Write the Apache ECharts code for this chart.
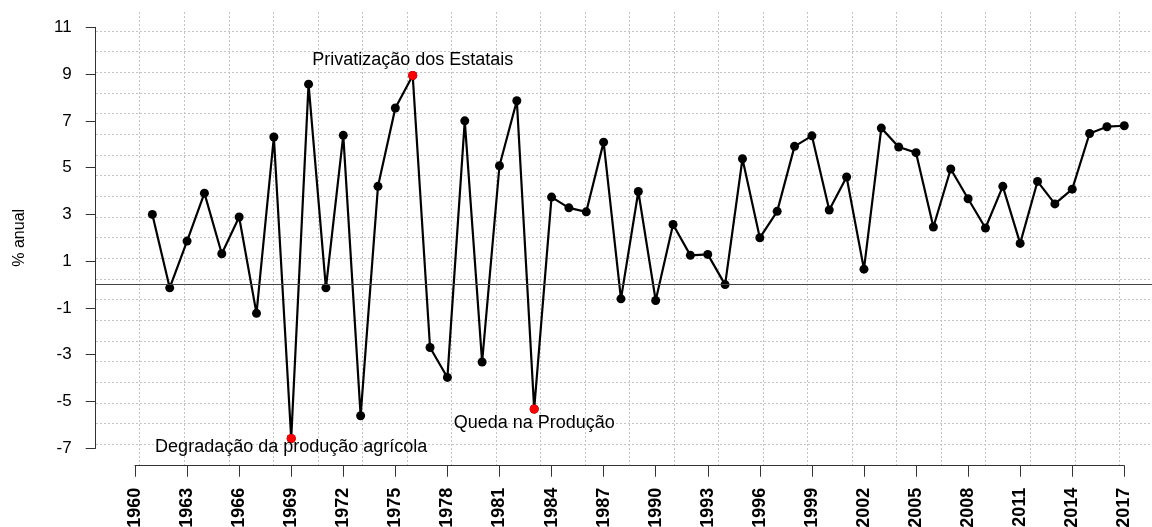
<!DOCTYPE html>
<html>
<head>
<meta charset="utf-8">
<title>% anual</title>
<script src="https://cdn.jsdelivr.net/npm/echarts@6.0.0/dist/echarts.min.js"></script>
<style>
  html, body { margin: 0; padding: 0; background: #fff; }
  #main { width: 1152px; height: 527px; }
</style>
</head>
<body>
<div id="main"></div>
<script>
// categorias do eixo x (anos)
var categories = ['1960', '1961', '1962', '1963', '1964', '1965', '1966', '1967', '1968', '1969',
  '1970', '1971', '1972', '1973', '1974', '1975', '1976', '1977', '1978', '1979',
  '1980', '1981', '1982', '1983', '1984', '1985', '1986', '1987', '1988', '1989',
  '1990', '1991', '1992', '1993', '1994', '1995', '1996', '1997', '1998', '1999',
  '2000', '2001', '2002', '2003', '2004', '2005', '2006', '2007', '2008', '2009',
  '2010', '2011', '2012', '2013', '2014', '2015', '2016', '2017'];

var years = ['1961', '1962', '1963', '1964', '1965', '1966', '1967', '1968', '1969', '1970',
  '1971', '1972', '1973', '1974', '1975', '1976', '1977', '1978', '1979', '1980',
  '1981', '1982', '1983', '1984', '1985', '1986', '1987', '1988', '1989', '1990',
  '1991', '1992', '1993', '1994', '1995', '1996', '1997', '1998', '1999', '2000',
  '2001', '2002', '2003', '2004', '2005', '2006', '2007', '2008', '2009', '2010',
  '2011', '2012', '2013', '2014', '2015', '2016', '2017'];

var values = [3.00, -0.14, 1.86, 3.91, 1.32, 2.89, -1.23, 6.31, -6.58, 8.57,
  -0.14, 6.38, -5.61, 4.20, 7.55, 8.94, -2.69, -3.97, 7.00, -3.31,
  5.08, 7.86, -5.32, 3.74, 3.28, 3.11, 6.09, -0.61, 3.98, -0.68,
  2.57, 1.25, 1.29, 0.00, 5.38, 2.00, 3.13, 5.91, 6.36, 3.19,
  4.60, 0.66, 6.69, 5.88, 5.64, 2.46, 4.94, 3.67, 2.42, 4.20,
  1.76, 4.41, 3.45, 4.08, 6.46, 6.75, 6.79];

// rótulos dos ticks
var xTickLabels = ['1960', '1963', '1966', '1969', '1972', '1975', '1978', '1981', '1984', '1987',
  '1990', '1993', '1996', '1999', '2002', '2005', '2008', '2011', '2014', '2017'];
var yTicks = [-7, -5, -3, -1, 1, 3, 5, 7, 9, 11];

// eventos destacados em vermelho
var eventYears = ['1969', '1976', '1983'];
var eventLabels = ['Degradação da produção agrícola', 'Privatização dos Estatais', 'Queda na Produção'];
var eventOffsets = [[0, 9], [0, -15], [0, 14]];

var font = '"Liberation Sans", Arial, Helvetica, sans-serif';

var lineData = years.map(function (y, i) { return [y, values[i]]; });
var eventData = eventYears.map(function (y, i) {
  return {
    value: [y, values[years.indexOf(y)]],
    label: {
      show: true,
      position: 'inside',
      offset: eventOffsets[i],
      formatter: eventLabels[i],
      fontFamily: font,
      fontSize: 18,
      color: '#000',
      textBorderWidth: 0
    }
  };
});

var showTick = function (idx, val) { return xTickLabels.indexOf(val) >= 0; };

var gridLine = { show: true, lineStyle: { color: '#c4c4c4', width: 1, type: [2, 2] } };

var myChart = echarts.init(document.getElementById('main'), null, { renderer: 'canvas' });

var option = {
  animation: false,
  backgroundColor: '#fff',
  grid: [
    // 0: principal (sem encolher para caber os rótulos)
    { left: 135, right: 27.7, top: 27.3, bottom: 78.7, containLabel: false, outerBoundsMode: 'none' },
    // 1: linhas horizontais da grade
    { left: 96, right: 0, top: 31, height: 413.3, outerBoundsMode: 'none' },
    // 2: linhas verticais da grade
    { left: 139.7, width: 979.6, top: 12, height: 453.5, outerBoundsMode: 'none' },
    // 3: linha do zero
    { left: 96, right: 0, top: 27.3, bottom: 78.7, outerBoundsMode: 'none' }
  ],
  xAxis: [
    {
      gridIndex: 0,
      type: 'category',
      data: categories,
      boundaryGap: false,
      position: 'bottom',
      offset: 17.4,
      axisLine: { show: true, onZero: false, lineStyle: { color: '#333', width: 1 } },
      axisTick: { show: true, length: 11, interval: showTick, lineStyle: { color: '#333', width: 1 } },
      axisLabel: {
        interval: showTick,
        rotate: 90,
        margin: 22,
        fontFamily: font,
        fontSize: 18,
        fontWeight: 'bold',
        color: '#000'
      },
      splitLine: { show: false }
    },
    { gridIndex: 1, type: 'value', min: 0, max: 1, show: false },
    {
      gridIndex: 2,
      type: 'value',
      min: 0,
      max: 22,
      interval: 1,
      axisLine: { show: false },
      axisTick: { show: false },
      axisLabel: { show: false },
      splitLine: gridLine
    },
    { gridIndex: 3, type: 'value', min: 0, max: 1, show: false }
  ],
  yAxis: [
    {
      gridIndex: 0,
      type: 'value',
      min: -7,
      max: 11,
      interval: 2,
      offset: 39.3,
      name: '% anual',
      nameLocation: 'middle',
      nameGap: 68,
      nameTextStyle: { fontFamily: font, fontSize: 16, color: '#000' },
      axisLine: { show: true, onZero: false, lineStyle: { color: '#333', width: 1 } },
      axisTick: { show: true, length: 10, lineStyle: { color: '#333', width: 1 } },
      axisLabel: {
        margin: 24,
        fontFamily: font,
        fontSize: 17,
        color: '#000',
        formatter: function (v) { return yTicks.indexOf(v) >= 0 ? String(v) : ''; }
      },
      splitLine: { show: false }
    },
    {
      gridIndex: 1,
      type: 'value',
      min: 0,
      max: 20,
      interval: 1,
      axisLine: { show: false },
      axisTick: { show: false },
      axisLabel: { show: false },
      splitLine: gridLine
    },
    { gridIndex: 2, type: 'value', min: 0, max: 1, show: false },
    { gridIndex: 3, type: 'value', min: -7, max: 11, show: false }
  ],
  series: [
    {
      type: 'line',
      xAxisIndex: 3,
      yAxisIndex: 3,
      data: [],
      silent: true,
      z: 1,
      markLine: {
        silent: true,
        symbol: ['none', 'none'],
        label: { show: false },
        lineStyle: { color: '#444', width: 1, type: 'solid' },
        data: [{ yAxis: 0 }]
      }
    },
    {
      name: 'crescimento',
      type: 'line',
      xAxisIndex: 0,
      yAxisIndex: 0,
      data: lineData,
      symbol: 'circle',
      symbolSize: 9,
      showAllSymbol: true,
      itemStyle: { color: '#000' },
      lineStyle: { color: '#000', width: 2.2 },
      z: 3,
      silent: true
    },
    {
      name: 'eventos',
      type: 'scatter',
      xAxisIndex: 0,
      yAxisIndex: 0,
      data: eventData,
      symbol: 'circle',
      symbolSize: 9,
      itemStyle: { color: '#ff0000', opacity: 1 },
      z: 4,
      silent: true
    }
  ]
};

myChart.setOption(option);
</script>
</body>
</html>
